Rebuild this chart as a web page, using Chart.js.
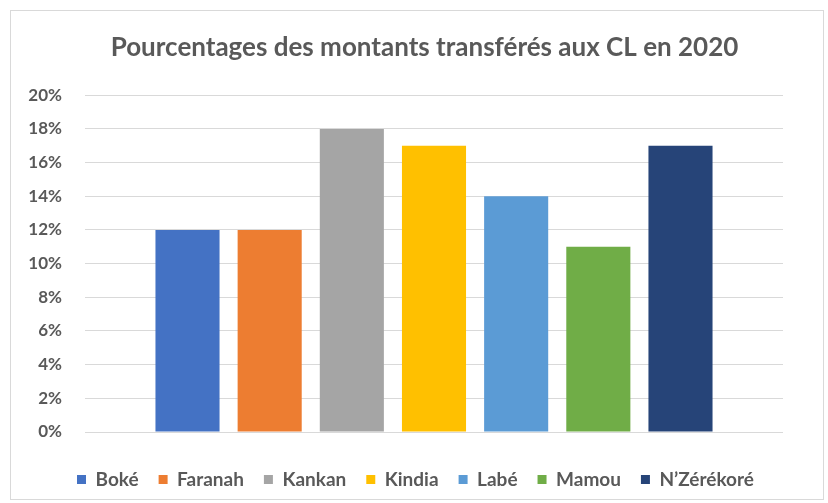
<!DOCTYPE html>
<html>
<head>
<meta charset="utf-8">
<script src="https://cdn.jsdelivr.net/npm/chart.js@4.4.1/dist/chart.umd.min.js"></script>
<style>
  html, body { margin: 0; padding: 0; background: #fff; }
  #frame { position: absolute; left: 10px; top: 10px; width: 814px; height: 490px;
           box-sizing: border-box; border: 1px solid #d9d9d9; }
  #wrap { position: absolute; left: 0; top: 0; width: 828px; height: 503px; }
</style>
</head>
<body>
<div id="frame"></div>
<div id="wrap"><canvas id="chart" width="828" height="503"></canvas></div>
<script>
const regions = ['Boké', 'Faranah', 'Kankan', 'Kindia', 'Labé', 'Mamou', 'N\u2019Zérékoré'];
const shares = [12, 12, 18, 17, 14, 11, 17];   // % of amounts transferred
const colors = ['#4472C4', '#ED7D31', '#A5A5A5', '#FFC000', '#5B9BD5', '#70AD47', '#264478'];
const yTicks = [0, 2, 4, 6, 8, 10, 12, 14, 16, 18, 20];

const txt = '#595959';
const fam = 'Lato, "Open Sans", sans-serif';

// one category, one dataset per region (Excel-like series)
const datasets = regions.map((r, i) => ({
  label: r,
  data: [shares[i]],
  backgroundColor: colors[i],
  borderWidth: 0
}));

// nudge the legend row a little to the left, like the excel one
const legendShift = {
  id: 'legendShift',
  afterLayout(chart) {
    chart.legend.left -= 9;
    chart.legend.right -= 9;
  }
};

new Chart(document.getElementById('chart'), {
  type: 'bar',
  data: { labels: [''], datasets: datasets },
  plugins: [legendShift],
  options: {
    responsive: false,
    animation: false,
    categoryPercentage: 0.824,
    barPercentage: 0.78,
    layout: { padding: { left: 21, right: 0, top: 0, bottom: 4 } },
    plugins: {
      title: {
        display: true,
        text: 'Pourcentages des montants transférés aux CL en 2020',
        color: txt,
        font: { family: fam, size: 26, weight: 'bold' },
        padding: { top: 32, bottom: 32 }
      },
      legend: {
        position: 'bottom',
        labels: {
          color: txt,
          font: { family: fam, size: 19, weight: 'bold' },
          boxWidth: 9,
          boxHeight: 9,
          padding: 20
        }
      },
      tooltip: { enabled: false }
    },
    scales: {
      x: {
        grid: { display: false },
        border: { display: false },
        ticks: { display: false },
        afterFit: s => { s.height = 18; }
      },
      y: {
        min: 0,
        max: 20,
        afterBuildTicks: s => { s.ticks = yTicks.map(v => ({ value: v })); },
        ticks: {
          color: txt,
          font: { family: fam, size: 17, weight: 'bold' },
          padding: 23,
          callback: v => v + '%'
        },
        grid: { color: '#d9d9d9', lineWidth: 1, drawTicks: false },
        border: { display: false },
        afterFit: s => { s.width = 64; }
      },
      y2: {
        position: 'right',
        display: true,
        grid: { display: false },
        border: { display: false },
        ticks: { display: false },
        afterFit: s => { s.width = 45; }
      }
    }
  }
});
</script>
</body>
</html>
